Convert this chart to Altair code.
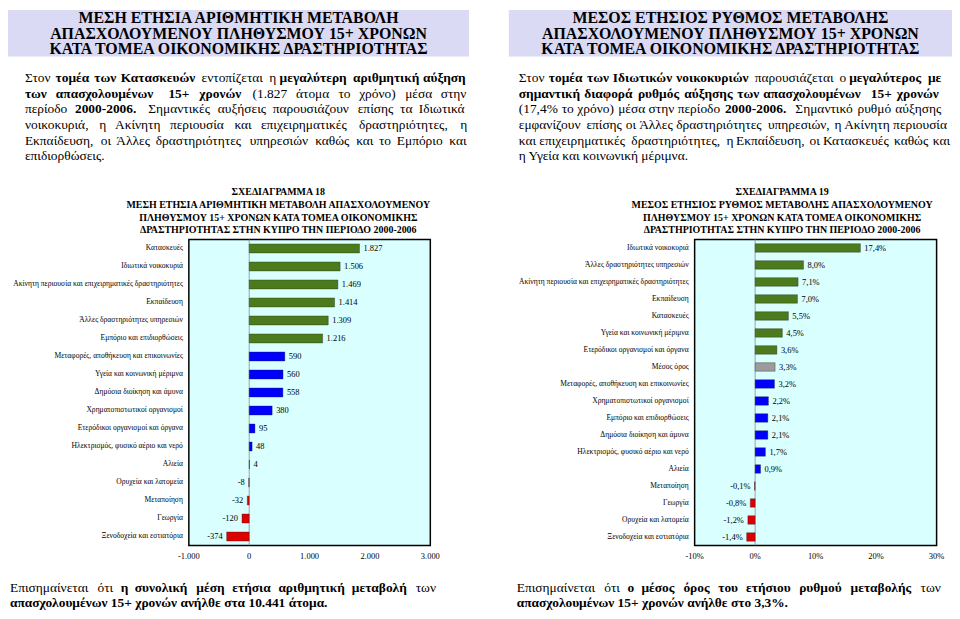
import altair as alt
import pandas as pd

SERIF = "Liberation Serif, DejaVu Serif, serif"

# ---------------- data ----------------
cats18 = ["Κατασκευές", "Ιδιωτικά νοικοκυριά",
          "Ακίνητη περιουσία και επιχειρηματικές δραστηριότητες", "Εκπαίδευση",
          "Άλλες δραστηριότητες υπηρεσιών", "Εμπόριο και επιδιορθώσεις",
          "Μεταφορές, αποθήκευση και επικοινωνίες", "Υγεία και κοινωνική μέριμνα",
          "Δημόσια διοίκηση και άμυνα", "Χρηματοπιστωτικοί οργανισμοί",
          "Ετερόδικοι οργανισμοί και όργανα", "Ηλεκτρισμός, φυσικό αέριο και νερό",
          "Αλιεία", "Ορυχεία και λατομεία", "Μεταποίηση", "Γεωργία",
          "Ξενοδοχεία και εστιατόρια"]
vals18 = [1827, 1506, 1469, 1414, 1309, 1216, 590, 560, 558, 380, 95, 48, 4, -8, -32, -120, -374]
ticks18 = [-1000, 0, 1000, 2000, 3000]
ticklabels18 = ["-1.000", "0", "1.000", "2.000", "3.000"]

cats19 = ["Ιδιωτικά νοικοκυριά", "Άλλες δραστηριότητες υπηρεσιών",
          "Ακίνητη περιουσία και επιχειρηματικές δραστηριότητες", "Εκπαίδευση",
          "Κατασκευές", "Υγεία και κοινωνική μέριμνα",
          "Ετερόδικοι οργανισμοί και όργανα", "Μέσος όρος",
          "Μεταφορές, αποθήκευση και επικοινωνίες", "Χρηματοπιστωτικοί οργανισμοί",
          "Εμπόριο και επιδιορθώσεις", "Δημόσια διοίκηση και άμυνα",
          "Ηλεκτρισμός, φυσικό αέριο και νερό", "Αλιεία", "Μεταποίηση", "Γεωργία",
          "Ορυχεία και λατομεία", "Ξενοδοχεία και εστιατόρια"]
vals19 = [17.4, 8.0, 7.1, 7.0, 5.5, 4.5, 3.6, 3.3, 3.2, 2.2, 2.1, 2.1, 1.7, 0.9, -0.1, -0.8, -1.2, -1.4]
avg19 = 3.3
ticks19 = [-10, 0, 10, 20, 30]
ticklabels19 = ["-10%", "0%", "10%", "20%", "30%"]

header_left = ["ΜΕΣΗ ΕΤΗΣΙΑ ΑΡΙΘΜΗΤΙΚΗ ΜΕΤΑΒΟΛΗ",
               "ΑΠΑΣΧΟΛΟΥΜΕΝΟΥ ΠΛΗΘΥΣΜΟΥ 15+ ΧΡΟΝΩΝ",
               "ΚΑΤΑ ΤΟΜΕΑ ΟΙΚΟΝΟΜΙΚΗΣ ΔΡΑΣΤΗΡΙΟΤΗΤΑΣ"]
header_right = ["ΜΕΣΟΣ ΕΤΗΣΙΟΣ ΡΥΘΜΟΣ ΜΕΤΑΒΟΛΗΣ",
                "ΑΠΑΣΧΟΛΟΥΜΕΝΟΥ ΠΛΗΘΥΣΜΟΥ 15+ ΧΡΟΝΩΝ",
                "ΚΑΤΑ ΤΟΜΕΑ ΟΙΚΟΝΟΜΙΚΗΣ ΔΡΑΣΤΗΡΙΟΤΗΤΑΣ"]
title_left = ["ΣΧΕΔΙΑΓΡΑΜΜΑ 18",
              "ΜΕΣΗ ΕΤΗΣΙΑ ΑΡΙΘΜΗΤΙΚΗ ΜΕΤΑΒΟΛΗ ΑΠΑΣΧΟΛΟΥΜΕΝΟΥ",
              "ΠΛΗΘΥΣΜΟΥ 15+ ΧΡΟΝΩΝ ΚΑΤΑ ΤΟΜΕΑ ΟΙΚΟΝΟΜΙΚΗΣ",
              "ΔΡΑΣΤΗΡΙΟΤΗΤΑΣ ΣΤΗΝ ΚΥΠΡΟ ΤΗΝ ΠΕΡΙΟΔΟ 2000-2006"]
title_right = ["ΣΧΕΔΙΑΓΡΑΜΜΑ 19",
               "ΜΕΣΟΣ ΕΤΗΣΙΟΣ ΡΥΘΜΟΣ ΜΕΤΑΒΟΛΗΣ ΑΠΑΣΧΟΛΟΥΜΕΝΟΥ",
               "ΠΛΗΘΥΣΜΟΥ 15+ ΧΡΟΝΩΝ ΚΑΤΑ ΤΟΜΕΑ ΟΙΚΟΝΟΜΙΚΗΣ",
               "ΔΡΑΣΤΗΡΙΟΤΗΤΑΣ ΣΤΗΝ ΚΥΠΡΟ ΤΗΝ ΠΕΡΙΟΔΟ 2000-2006"]

para_left = [
    [("Στον", 0), ("τομέα των Κατασκευών", 1), ("εντοπίζεται η", 0), ("μεγαλύτερη αριθμητική αύξηση", 1)],
    [("των απασχολουμένων 15+ χρονών", 1), ("(1.827 άτομα το χρόνο) μέσα στην", 0)],
    [("περίοδο", 0), ("2000-2006.", 1), ("Σημαντικές αυξήσεις παρουσιάζουν επίσης τα Ιδιωτικά", 0)],
    [("νοικοκυριά, η Ακίνητη περιουσία και επιχειρηματικές δραστηριότητες, η", 0)],
    [("Εκπαίδευση, οι Άλλες δραστηριότητες υπηρεσιών καθώς και το Εμπόριο και", 0)],
    [("επιδιορθώσεις.", 0)],
]
para_right = [
    [("Στον", 0), ("τομέα των Ιδιωτικών νοικοκυριών", 1), ("παρουσιάζεται ο", 0), ("μεγαλύτερος με", 1)],
    [("σημαντική διαφορά ρυθμός αύξησης των απασχολουμένων 15+ χρονών", 1)],
    [("(17,4% το χρόνο) μέσα στην περίοδο", 0), ("2000-2006.", 1), ("Σημαντικό ρυθμό αύξησης", 0)],
    [("εμφανίζουν επίσης οι Άλλες δραστηριότητες υπηρεσιών, η Ακίνητη περιουσία", 0)],
    [("και επιχειρηματικές δραστηριότητες, η Εκπαίδευση, οι Κατασκευές καθώς και", 0)],
    [("η Υγεία και κοινωνική μέριμνα.", 0)],
]
foot_left = [
    [("Επισημαίνεται ότι", 0), ("η συνολική μέση ετήσια αριθμητική μεταβολή", 1), ("των", 0)],
    [("απασχολουμένων 15+ χρονών ανήλθε στα 10.441 άτομα.", 1)],
]
foot_right = [
    [("Επισημαίνεται ότι", 0), ("ο μέσος όρος του ετήσιου ρυθμού μεταβολής", 1), ("των", 0)],
    [("απασχολουμένων 15+ χρονών ανήλθε στο 3,3%.", 1)],
]

# ---------------- text layout helpers ----------------
LOW = {'α': .52, 'ά': .52, 'β': .5, 'γ': .45, 'δ': .5, 'ε': .42, 'έ': .42, 'ζ': .43,
       'η': .5, 'ή': .5, 'θ': .5, 'ι': .27, 'ί': .27, 'ϊ': .27, 'κ': .5, 'λ': .47,
       'μ': .53, 'ν': .45, 'ξ': .43, 'ο': .5, 'ό': .5, 'π': .53, 'ρ': .5, 'σ': .53,
       'ς': .41, 'τ': .43, 'υ': .5, 'ύ': .5, 'ϋ': .5, 'φ': .63, 'χ': .48, 'ψ': .67,
       'ω': .68, 'ώ': .68}
UP = {'Ι': .33, 'Μ': .89, 'Ρ': .56, 'Σ': .6, 'Τ': .61, 'Ε': .61, 'Γ': .58, 'Δ': .63,
      'Ά': .72, 'Ή': .8, 'Έ': .7}
OTH = {' ': .25, '.': .25, ',': .25, '(': .33, ')': .33, '-': .33, '+': .56, '%': .83}


def char_w(c):
    if c in LOW:
        return LOW[c]
    if c in UP:
        return UP[c]
    if c in OTH:
        return OTH[c]
    if c.isdigit():
        return .5
    if c.isupper():
        return .7
    return .47


def word_w(w, bold, size):
    return sum(char_w(c) for c in w) * size * (1.07 if bold else 1.0) * 1.03


def layout(lines, x0, x1, y0, dy, size):
    rows = []
    for i, segs in enumerate(lines):
        y = y0 + i * dy
        gap = size * 0.25
        if i < len(lines) - 1:
            # justified line: place word by word
            words = [(w, b) for t, b in segs for w in t.split()]
            ws = [word_w(w, b, size) for w, b in words]
            if len(words) > 1:
                gap = max(gap * 0.8, (x1 - x0 - sum(ws)) / (len(words) - 1))
            x = x0
            for (w, b), wd in zip(words, ws):
                rows.append(dict(x=x, y=y, t=w, b=b))
                x += wd + gap
        else:
            # last line of a paragraph: natural spacing, whole segments
            x = x0
            for t, b in segs:
                rows.append(dict(x=x, y=y, t=t, b=b))
                x += word_w(t, b, size) + gap
    return rows


BODY = 13.5
PANEL_W = 475
PANEL_H = 603
XS = alt.X('x:Q', scale=None)
YS = alt.Y('y:Q', scale=None)
one = pd.DataFrame({'a': [0]})

GDOM = ['big', 'pos', 'neg', 'avg']
GRANGE = ['#4b7b1c', '#0000ff', '#dd0000', '#9c9c9c']


def panel(header, box, head_cx, para, para_x, foot, foot_x, title, title_cx,
          cats, vals, groups, labels, ticks, ticklabels, domain, xrange, cat_x):
    yrange = [231, 539]
    body_df = pd.DataFrame(layout(para, para_x[0], para_x[1], 68.5, 15.8, BODY)
                           + layout(foot, foot_x[0], foot_x[1], 582, 14.5, BODY))
    head_df = pd.DataFrame([dict(x=head_cx, y=8.5 + 15.5 * i, t=t) for i, t in enumerate(header)])
    title_df = pd.DataFrame([dict(x=title_cx, y=183 + 13 * i, t=t) for i, t in enumerate(title)])

    hbox = alt.Chart(one).mark_rect(fill='#dadaf4').encode(
        x=alt.value(box[0]), x2=alt.value(box[1]), y=alt.value(0), y2=alt.value(47))
    htext = alt.Chart(head_df).mark_text(
        align='center', baseline='middle', font=SERIF, fontSize=16, fontWeight='bold', color='black'
    ).encode(x=XS, y=YS, text='t:N')
    bnorm = alt.Chart(body_df).transform_filter('datum.b == 0').mark_text(
        align='left', baseline='middle', font=SERIF, fontSize=BODY, color='black'
    ).encode(x=XS, y=YS, text='t:N')
    bbold = alt.Chart(body_df).transform_filter('datum.b == 1').mark_text(
        align='left', baseline='middle', font=SERIF, fontSize=BODY, fontWeight='bold', color='black'
    ).encode(x=XS, y=YS, text='t:N')
    ttext = alt.Chart(title_df).mark_text(
        align='center', baseline='middle', font=SERIF, fontSize=10, fontWeight='bold', color='black'
    ).encode(x=XS, y=YS, text='t:N')

    df = pd.DataFrame({'cat': cats, 'v': vals, 'grp': groups, 'lab': labels})
    tdf = pd.DataFrame({'t': ticks, 'tl': ticklabels})
    xsc = alt.Scale(domain=domain, range=xrange, nice=False, zero=False)
    ysc = alt.Scale(range=yrange, paddingInner=0.5, paddingOuter=0.25)
    y = alt.Y('cat:N', sort=cats, scale=ysc, axis=None)
    bg = alt.Chart(one).mark_rect(fill='#d9ffff', stroke='black', strokeWidth=1.5).encode(
        x=alt.value(xrange[0]), x2=alt.value(xrange[1]),
        y=alt.value(yrange[0]), y2=alt.value(yrange[1]))
    zero_df = pd.DataFrame({'z': [0]})
    zero = alt.Chart(zero_df).mark_rule(color='#8a8a9a', strokeWidth=0.8).encode(
        x=alt.X('z:Q', scale=xsc, axis=None), y=alt.value(yrange[0]), y2=alt.value(yrange[1]))
    bars = alt.Chart(df).mark_bar(stroke='#222222', strokeWidth=0.6, strokeOpacity=0.6).encode(
        x=alt.X('v:Q', scale=xsc, axis=None), y=y,
        color=alt.Color('grp:N', scale=alt.Scale(domain=GDOM, range=GRANGE), legend=None))
    lab_pos = alt.Chart(df).transform_filter('datum.v >= 0').mark_text(
        align='left', baseline='middle', dx=4, font=SERIF, fontSize=8.5, color='black'
    ).encode(x=alt.X('v:Q', scale=xsc, axis=None), y=y, text='lab:N')
    lab_neg = alt.Chart(df).transform_filter('datum.v < 0').mark_text(
        align='right', baseline='middle', dx=-4, font=SERIF, fontSize=8.5, color='black'
    ).encode(x=alt.X('v:Q', scale=xsc, axis=None), y=y, text='lab:N')
    cat_lab = alt.Chart(df).mark_text(
        align='right', baseline='middle', font=SERIF, fontSize=7.6, color='black'
    ).encode(x=alt.value(cat_x), y=y, text='cat:N')
    tick_lab = alt.Chart(tdf).mark_text(
        align='center', baseline='middle', font=SERIF, fontSize=8.5, color='black'
    ).encode(x=alt.X('t:Q', scale=xsc, axis=None), y=alt.value(yrange[1] + 11), text='tl:N')

    return alt.layer(hbox, htext, bnorm, bbold, ttext, bg, zero, bars,
                     lab_pos, lab_neg, cat_lab, tick_lab).properties(
        width=PANEL_W, height=PANEL_H)


groups18 = ['big' if v >= 1000 else ('pos' if v >= 0 else 'neg') for v in vals18]
labels18 = [f"{v:,}".replace(',', '.') for v in vals18]
groups19 = ['avg' if c == "Μέσος όρος" else ('big' if v > avg19 else ('pos' if v >= 0 else 'neg'))
            for c, v in zip(cats19, vals19)]
labels19 = [f"{v:.1f}".replace('.', ',') + '%' for v in vals19]

O = PANEL_W
left = panel(header_left, (0, 464), 232, para_left, (17, 462), foot_left, (2, 432),
             title_left, 272, cats18, vals18, groups18, labels18, ticks18, ticklabels18,
             [-1000, 3000], [182, 425], 176)
right = panel(header_right, (504 - O, 475), 727 - O, para_right, (514 - O, 940 - O),
              foot_right, (512 - O, 940 - O), title_right, 779 - O,
              cats19, vals19, groups19, labels19, ticks19, ticklabels19,
              [-10, 30], [691 - O, 934.5 - O], 685 - O)

chart = alt.hconcat(left, right, spacing=0, bounds='flush').properties(
    padding=0, background='white'
).configure_view(stroke=None)

chart.save("out.html", embed_options={"renderer": "svg", "actions": False})
